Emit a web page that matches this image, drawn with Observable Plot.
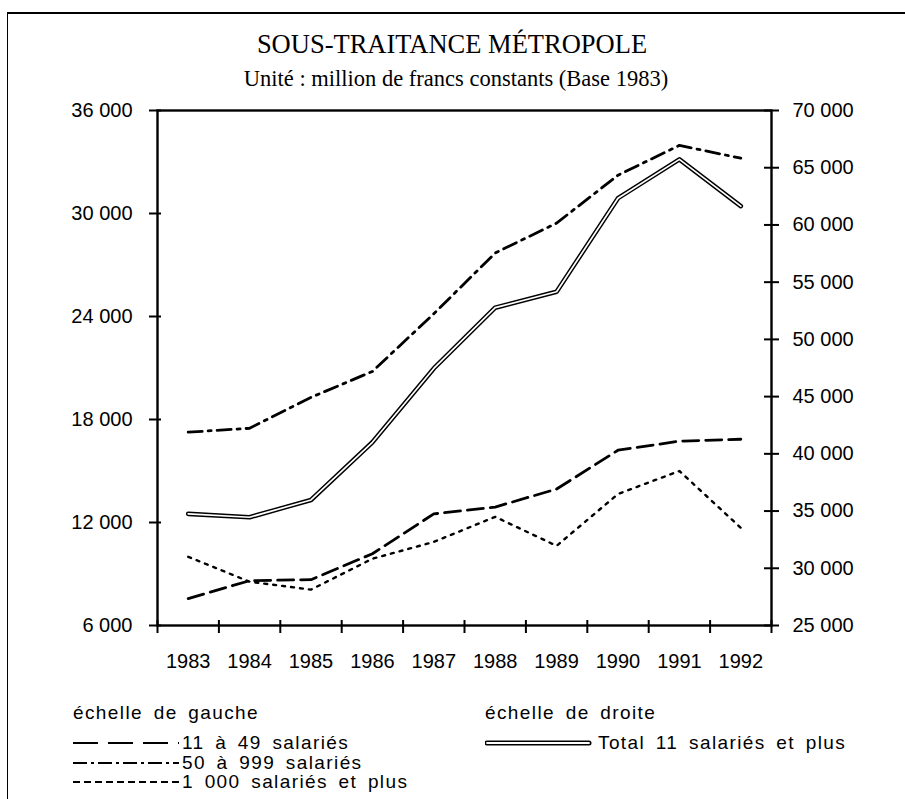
<!DOCTYPE html>
<html><head><meta charset="utf-8">
<script src="https://cdn.jsdelivr.net/npm/d3@7"></script>
<script src="https://cdn.jsdelivr.net/npm/@observablehq/plot@0.6"></script>
<style>
body{margin:0;background:#fff;}
#page{position:relative;width:905px;height:799px;overflow:hidden;background:#fff;}
#frame{position:absolute;left:7px;top:12px;width:920px;height:820px;border-left:1.5px solid #000;border-top:2px solid #000;}
.title{position:absolute;transform:translateX(-50%);white-space:nowrap;font-family:"Liberation Serif",serif;color:#000;}
#chart{position:absolute;left:0;top:0;}
.leg{position:absolute;font-family:"Liberation Sans",Arial,sans-serif;font-size:19px;line-height:20px;letter-spacing:1.4px;word-spacing:4px;color:#000;white-space:nowrap;}
.sw{position:absolute;}
</style></head><body>
<div id="page">
  <div id="frame"></div>
  <div id="chart"></div>
  <div class="title" style="left:452px;top:29px;font-size:26.5px;">SOUS-TRAITANCE MÉTROPOLE</div>
  <div class="title" style="left:456px;top:66px;font-size:22.5px;">Unité : million de francs constants (Base 1983)</div>

  <div class="leg" style="left:73px;top:703px;">échelle de gauche</div>
  <svg class="sw" style="left:73px;top:733px" width="106" height="20"><line x1="0" y1="10" x2="106" y2="10" stroke="#000" stroke-width="2.2" stroke-dasharray="25,10"/></svg>
  <div class="leg" style="left:182px;top:733px;">11 à 49 salariés</div>
  <svg class="sw" style="left:73px;top:753px" width="106" height="20"><line x1="0" y1="10" x2="106" y2="10" stroke="#000" stroke-width="2.2" stroke-dasharray="14,4,3,4"/></svg>
  <div class="leg" style="left:182px;top:753px;">50 à 999 salariés</div>
  <svg class="sw" style="left:73px;top:772px" width="106" height="20"><line x1="0" y1="10" x2="106" y2="10" stroke="#000" stroke-width="2" stroke-dasharray="7,4"/></svg>
  <div class="leg" style="left:182px;top:772px;">1 000 salariés et plus</div>

  <div class="leg" style="left:485px;top:703px;">échelle de droite</div>
  <svg class="sw" style="left:485px;top:733px" width="110" height="20"><line x1="2" y1="10" x2="104" y2="10" stroke="#000" stroke-width="5" stroke-linecap="round"/><line x1="2" y1="10" x2="104" y2="10" stroke="#fff" stroke-width="1.8" stroke-linecap="round"/></svg>
  <div class="leg" style="left:598px;top:733px;">Total 11 salariés et plus</div>
</div>
<script>
// ---- data ----
const years = [1983, 1984, 1985, 1986, 1987, 1988, 1989, 1990, 1991, 1992];
// left scale (million F)
const s11_49   = [7570, 8610, 8670, 10180, 12500, 12900, 13950, 16210, 16740, 16850];
const s50_999  = [17260, 17490, 19290, 20800, 24160, 27700, 29440, 32230, 33970, 33220];
const s1000    = [10000, 8550, 8090, 9890, 10870, 12330, 10640, 13660, 15000, 11690];
// right scale (million F)
const sTotal   = [34750, 34460, 35970, 41010, 47460, 52770, 54160, 62340, 65730, 61640];
// tick labels
const leftTicks  = [6000, 12000, 18000, 24000, 30000, 36000];
const rightTicks = [25000, 30000, 35000, 40000, 45000, 50000, 55000, 60000, 65000, 70000];
const leftDomain = [6000, 36000];
const rightDomain = [25000, 70000];

// map right-scale values onto the left scale
const toLeft = v => leftDomain[0] + (v - rightDomain[0]) * (leftDomain[1] - leftDomain[0]) / (rightDomain[1] - rightDomain[0]);
const fromLeft = v => rightDomain[0] + (v - leftDomain[0]) * (rightDomain[1] - rightDomain[0]) / (leftDomain[1] - leftDomain[0]);
const fmt = v => d3.format(",")(Math.round(v)).replace(/,/g, " ");

const rows = (arr, f = d => d) => years.map((y, i) => ({year: y, value: f(arr[i])}));
const bounds = [years[0] - 0.5, ...years.map(y => y + 0.5)];

const chart = Plot.plot({
  width: 905,
  height: 700,
  marginTop: 110,
  marginBottom: 75,
  marginLeft: 157,
  marginRight: 134,
  style: {fontFamily: '"Liberation Sans", Arial, sans-serif', fontSize: "20px", color: "#000", background: "transparent"},
  x: {type: "linear", domain: [years[0] - 0.5, years[years.length - 1] + 0.5], label: null},
  y: {domain: leftDomain, label: null},
  marks: [
    Plot.frame({stroke: "#000", strokeWidth: 2.4}),
    // left axis: crossing ticks + labels
    Plot.axisY(leftTicks, {anchor: "left", tickSize: 12, dx: 4, strokeWidth: 2, tickFormat: () => "", label: null}),
    Plot.axisY(leftTicks, {anchor: "left", tickSize: 0, tickPadding: 25, tickFormat: fmt, fontSize: 20, label: null}),
    // right axis
    Plot.axisY(rightTicks.map(toLeft), {anchor: "right", tickSize: 15, dx: -8, strokeWidth: 2, tickFormat: () => "", label: null}),
    Plot.axisY(rightTicks.map(toLeft), {anchor: "right", tickSize: 0, tickPadding: 21, tickFormat: d => fmt(fromLeft(d)), fontSize: 20, label: null}),
    // x axis: ticks at band boundaries, labels at band centres
    Plot.axisX(bounds, {tickSize: 13, dy: -5, strokeWidth: 2, tickFormat: () => "", label: null}),
    Plot.axisX(years, {tickSize: 0, tickPadding: 28, tickFormat: d => String(d), fontSize: 20, label: null}),
    // series
    Plot.line(rows(s11_49), {x: "year", y: "value", stroke: "#000", strokeWidth: 2.8, strokeDasharray: "16,7", strokeLinejoin: "round"}),
    Plot.line(rows(s50_999), {x: "year", y: "value", stroke: "#000", strokeWidth: 2.8, strokeDasharray: "14,6,3,6", strokeLinejoin: "round"}),
    Plot.line(rows(s1000), {x: "year", y: "value", stroke: "#000", strokeWidth: 2.4, strokeDasharray: "3,6", strokeLinejoin: "round"}),
    Plot.line(rows(sTotal, toLeft), {x: "year", y: "value", stroke: "#000", strokeWidth: 4.6, strokeLinejoin: "round"}),
    Plot.line(rows(sTotal, toLeft), {x: "year", y: "value", stroke: "#fff", strokeWidth: 1.7, strokeLinejoin: "round"})
  ]
});
document.getElementById("chart").appendChild(chart);
</script>
</body></html>
